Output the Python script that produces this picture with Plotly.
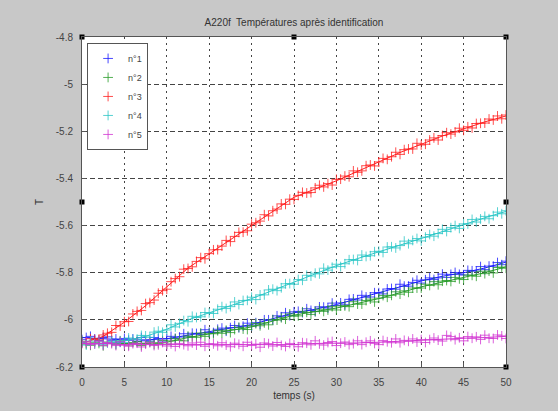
import plotly.graph_objects as go

# ---------------- data ----------------
t_meas = [i * 0.5 for i in range(101)]          # 0 .. 50 s, step 0.5 s
t_model = [i * 2.5 for i in range(21)]          # 0 .. 50 s, step 2.5 s

n1_meas = [-6.084, -6.075, -6.070, -6.081, -6.087, -6.075, -6.072, -6.087, -6.081, -6.095,
           -6.079, -6.086, -6.081, -6.092, -6.075, -6.089, -6.090, -6.075, -6.079, -6.090,
           -6.080, -6.070, -6.079, -6.073, -6.059, -6.073, -6.057, -6.058, -6.062, -6.042,
           -6.053, -6.054, -6.040, -6.035, -6.048, -6.033, -6.024, -6.033, -6.027, -6.014,
           -6.026, -6.012, -6.018, -6.000, -6.000, -6.000, -5.983, -5.987, -5.970, -5.982,
           -5.966, -5.964, -5.969, -5.953, -5.960, -5.964, -5.945, -5.946, -5.950, -5.929,
           -5.939, -5.928, -5.936, -5.913, -5.911, -5.916, -5.896, -5.903, -5.903, -5.885,
           -5.885, -5.890, -5.869, -5.867, -5.870, -5.849, -5.857, -5.857, -5.841, -5.832,
           -5.844, -5.830, -5.822, -5.829, -5.822, -5.806, -5.820, -5.807, -5.799, -5.807,
           -5.810, -5.790, -5.792, -5.793, -5.774, -5.787, -5.772, -5.772, -5.757, -5.766,
           -5.751]

n2_meas = [-6.091, -6.103, -6.108, -6.095, -6.100, -6.110, -6.094, -6.097, -6.105, -6.089,
           -6.102, -6.107, -6.096, -6.092, -6.109, -6.099, -6.094, -6.104, -6.100, -6.087,
           -6.103, -6.089, -6.080, -6.087, -6.089, -6.069, -6.072, -6.074, -6.056, -6.070,
           -6.057, -6.059, -6.046, -6.057, -6.044, -6.054, -6.041, -6.032, -6.039, -6.041,
           -6.025, -6.016, -6.025, -6.013, -6.021, -5.999, -6.001, -5.991, -5.997, -5.975,
           -5.984, -5.983, -5.966, -5.968, -5.977, -5.965, -5.955, -5.964, -5.958, -5.944,
           -5.958, -5.941, -5.941, -5.944, -5.923, -5.933, -5.933, -5.918, -5.912, -5.924,
           -5.908, -5.897, -5.904, -5.896, -5.881, -5.891, -5.877, -5.883, -5.865, -5.865,
           -5.865, -5.849, -5.854, -5.838, -5.851, -5.836, -5.833, -5.837, -5.820, -5.826,
           -5.829, -5.810, -5.811, -5.815, -5.794, -5.804, -5.793, -5.801, -5.778, -5.776,
           -5.781]

n3_meas = [-6.097, -6.099, -6.080, -6.084, -6.085, -6.064, -6.057, -6.053, -6.024, -6.026,
           -6.008, -6.007, -5.975, -5.964, -5.960, -5.931, -5.927, -5.916, -5.887, -5.876,
           -5.870, -5.838, -5.825, -5.817, -5.785, -5.782, -5.775, -5.752, -5.736, -5.741,
           -5.719, -5.703, -5.702, -5.687, -5.663, -5.668, -5.646, -5.629, -5.628, -5.622,
           -5.594, -5.588, -5.581, -5.554, -5.559, -5.537, -5.530, -5.508, -5.510, -5.488,
           -5.489, -5.472, -5.459, -5.462, -5.460, -5.440, -5.429, -5.436, -5.422, -5.428,
           -5.404, -5.403, -5.390, -5.393, -5.368, -5.374, -5.368, -5.346, -5.343, -5.347,
           -5.330, -5.315, -5.319, -5.308, -5.289, -5.298, -5.278, -5.275, -5.275, -5.251,
           -5.258, -5.255, -5.237, -5.228, -5.237, -5.218, -5.206, -5.212, -5.203, -5.187,
           -5.196, -5.181, -5.186, -5.167, -5.166, -5.165, -5.148, -5.152, -5.135, -5.147,
           -5.131]

n4_meas = [-6.096, -6.107, -6.090, -6.102, -6.093, -6.105, -6.098, -6.091, -6.102, -6.089,
           -6.096, -6.077, -6.083, -6.082, -6.066, -6.068, -6.074, -6.052, -6.048, -6.053,
           -6.043, -6.021, -6.030, -6.015, -6.003, -6.008, -5.985, -5.990, -5.987, -5.969,
           -5.970, -5.973, -5.955, -5.944, -5.952, -5.944, -5.924, -5.935, -5.918, -5.917,
           -5.904, -5.914, -5.894, -5.894, -5.873, -5.870, -5.876, -5.864, -5.847, -5.846,
           -5.849, -5.829, -5.832, -5.811, -5.814, -5.802, -5.805, -5.781, -5.789, -5.777,
           -5.764, -5.774, -5.762, -5.745, -5.744, -5.748, -5.725, -5.731, -5.728, -5.711,
           -5.709, -5.714, -5.691, -5.690, -5.695, -5.685, -5.666, -5.677, -5.663, -5.655,
           -5.665, -5.649, -5.638, -5.645, -5.634, -5.616, -5.625, -5.609, -5.600, -5.612,
           -5.593, -5.593, -5.574, -5.585, -5.572, -5.561, -5.571, -5.558, -5.543, -5.550,
           -5.537]

n5_meas = [-6.100, -6.093, -6.105, -6.102, -6.091, -6.108, -6.096, -6.101, -6.109, -6.093,
           -6.108, -6.112, -6.101, -6.099, -6.115, -6.103, -6.097, -6.109, -6.106, -6.096,
           -6.111, -6.102, -6.113, -6.100, -6.105, -6.110, -6.098, -6.107, -6.095, -6.112,
           -6.101, -6.102, -6.110, -6.097, -6.107, -6.114, -6.099, -6.104, -6.112, -6.095,
           -6.109, -6.103, -6.116, -6.098, -6.101, -6.111, -6.096, -6.108, -6.113, -6.100,
           -6.105, -6.114, -6.097, -6.099, -6.106, -6.089, -6.102, -6.107, -6.096, -6.092,
           -6.109, -6.099, -6.094, -6.105, -6.101, -6.089, -6.105, -6.095, -6.089, -6.100,
           -6.105, -6.088, -6.093, -6.097, -6.081, -6.097, -6.087, -6.091, -6.081, -6.094,
           -6.084, -6.096, -6.084, -6.077, -6.086, -6.090, -6.066, -6.071, -6.084, -6.076,
           -6.089, -6.071, -6.078, -6.072, -6.083, -6.065, -6.078, -6.079, -6.064, -6.068,
           -6.079]

n1_model = [-6.075, -6.080, -6.085, -6.085, -6.080, -6.065, -6.050, -6.035, -6.020, -5.995,
            -5.970, -5.955, -5.935, -5.910, -5.885, -5.860, -5.835, -5.815, -5.800, -5.780, -5.755]
n2_model = [-6.100, -6.100, -6.100, -6.100, -6.095, -6.075, -6.060, -6.045, -6.030, -6.005,
            -5.980, -5.965, -5.950, -5.930, -5.910, -5.885, -5.860, -5.840, -5.820, -5.800, -5.775]
n3_model = [-6.100, -6.070, -6.010, -5.940, -5.860, -5.780, -5.720, -5.660, -5.600, -5.540,
            -5.480, -5.445, -5.410, -5.370, -5.330, -5.290, -5.255, -5.220, -5.190, -5.160, -5.135]
n4_model = [-6.100, -6.100, -6.090, -6.070, -6.040, -6.000, -5.970, -5.940, -5.910, -5.875,
            -5.840, -5.805, -5.770, -5.740, -5.710, -5.683, -5.655, -5.625, -5.595, -5.567, -5.540]
n5_model = [-6.100, -6.100, -6.105, -6.105, -6.105, -6.105, -6.105, -6.105, -6.105, -6.105,
            -6.105, -6.100, -6.100, -6.098, -6.095, -6.090, -6.088, -6.082, -6.078, -6.075, -6.070]

series_names = ["n°1", "n°2", "n°3", "n°4", "n°5"]
series_colors = ["#1a1aff", "#2a9d2a", "#ff2020", "#2cc6c6", "#d236d2"]

x_ticks = [0, 5, 10, 15, 20, 25, 30, 35, 40, 45, 50]
y_ticks = [-6.2, -6.0, -5.8, -5.6, -5.4, -5.2, -5.0, -4.8]
y_tick_labels = ["-6.2", "-6", "-5.8", "-5.6", "-5.4", "-5.2", "-5", "-4.8"]

handle_x = [0, 25, 50, 0, 50, 0, 25, 50]
handle_y = [-4.8, -4.8, -4.8, -5.5, -5.5, -6.2, -6.2, -6.2]

# ---------------- figure ----------------
fig = go.Figure()
meas = [n1_meas, n2_meas, n3_meas, n4_meas, n5_meas]
models = [n1_model, n2_model, n3_model, n4_model, n5_model]

for name, col, ys, ym in zip(series_names, series_colors, meas, models):
    fig.add_trace(go.Scatter(
        x=t_model, y=ym, mode="lines", line=dict(color=col, width=1),
        showlegend=False, hoverinfo="skip"))
    fig.add_trace(go.Scatter(
        x=t_meas, y=ys, mode="markers", name=name,
        marker=dict(symbol="cross-thin", size=7, color=col,
                    line=dict(color=col, width=0.8))))

fig.add_trace(go.Scatter(
    x=handle_x, y=handle_y, mode="markers", showlegend=False, hoverinfo="skip",
    marker=dict(symbol="square", size=5, color="black"), cliponaxis=False))

font_main = "Liberation Sans, Arial, sans-serif"
axis_common = dict(
    showline=True, linecolor="#555555", linewidth=1, mirror=True,
    showgrid=True, gridcolor="#444444", gridwidth=1,
    zeroline=False, ticks="inside", ticklen=4, tickcolor="#555555",
    tickfont=dict(family=font_main, size=10, color="#444444"),
)

fig.update_xaxes(
    range=[0, 50], tickvals=x_ticks, griddash="2px,4px",
    ticklabelstandoff=6,
    title=dict(text="temps (s)", font=dict(family=font_main, size=10, color="#333333"), standoff=4),
    **axis_common)
fig.update_yaxes(
    range=[-6.2, -4.8], tickvals=y_ticks, ticktext=y_tick_labels, griddash="5px,3px",
    ticklabelstandoff=6,
    title=dict(text="T", font=dict(family=font_main, size=10, color="#333333"), standoff=10),
    **axis_common)

fig.update_layout(
    width=558, height=411,
    margin=dict(l=82, r=52, t=37, b=42),
    paper_bgcolor="#c8c8c8", plot_bgcolor="white",
    title=dict(text="A220f  Températures après identification",
               font=dict(family=font_main, size=10, color="#333333"),
               x=0.5, xref="paper", xanchor="center",
               y=1 - 22 / 411, yref="container", yanchor="middle"),
    legend=dict(x=0.012, y=0.982, xanchor="left", yanchor="top",
                bgcolor="white", bordercolor="#555555", borderwidth=1,
                font=dict(family=font_main, size=9, color="#444444"),
                tracegroupgap=0, itemwidth=30),
    showlegend=True,
)

fig.write_html("out.html")
